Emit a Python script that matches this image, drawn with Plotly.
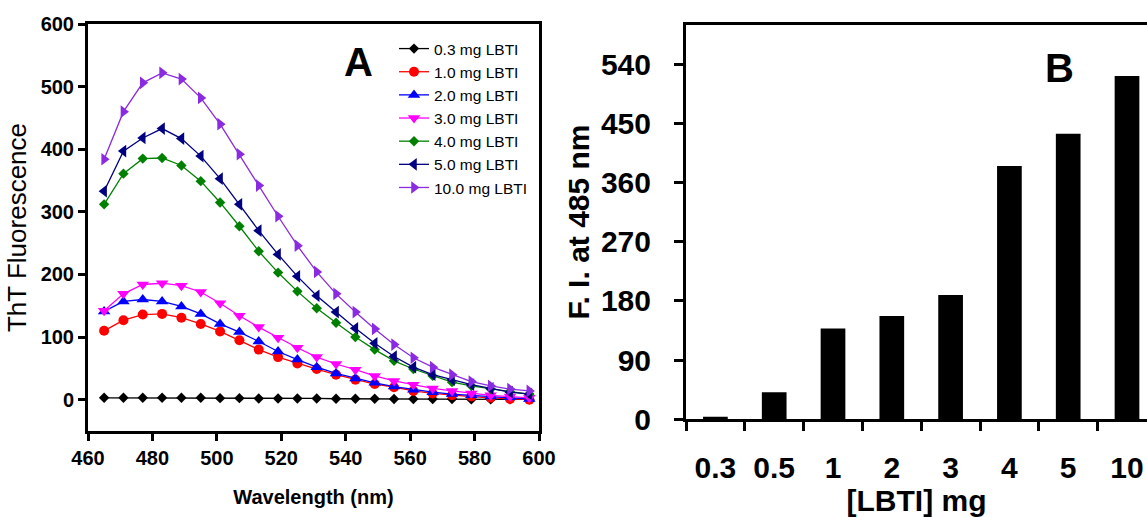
import plotly.graph_objects as go

# Panel A: ThT emission spectra for increasing LBTI amounts
wavelength = [465, 471, 477, 483, 489, 495, 501, 507, 513, 519, 525, 531,
              537, 543, 549, 555, 561, 567, 573, 579, 585, 591, 597]

lbti_03 = [3, 3, 3, 3, 3, 3, 2.5, 2.5, 2, 2, 2, 2, 1.5, 1.5, 1.5, 1, 1, 1, 1, 0.5, 0.5, 0.5, 0.5]
lbti_10 = [110, 127, 136, 137, 131, 121, 109, 95, 80, 68, 58, 49, 40, 32, 25, 20, 14, 10, 7, 5, 3, 1, 0]
lbti_20 = [141, 157, 160, 157, 149, 137, 121, 108, 93, 77, 64, 52, 42, 34, 27, 21, 16, 12, 9, 7, 5, 4, 1]
lbti_30 = [142, 169, 184, 186, 182, 172, 154, 134, 116, 99, 83, 68, 57, 48, 38, 30, 24, 18, 14, 10, 7, 5, 3]
lbti_40 = [312, 361, 385, 386, 374, 349, 315, 277, 237, 203, 173, 146, 123, 100, 80, 62, 49, 38, 28, 22, 17, 13, 9]
lbti_50 = [333, 397, 418, 433, 417, 389, 353, 312, 270, 232, 197, 166, 140, 114, 90, 69, 52, 40, 32, 24, 18, 12, 9]
lbti_100 = [384, 460, 506, 522, 512, 482, 440, 392, 342, 293, 246, 204, 169, 140, 113, 88, 67, 52, 40, 29, 22, 17, 14]

series_names = ["0.3 mg LBTI", "1.0 mg LBTI", "2.0 mg LBTI", "3.0 mg LBTI",
                "4.0 mg LBTI", "5.0 mg LBTI", "10.0 mg LBTI"]
series_values = [lbti_03, lbti_10, lbti_20, lbti_30, lbti_40, lbti_50, lbti_100]
series_colors = ["#000000", "#ff0000", "#0000ff", "#ff00ff", "#008000", "#000080", "#8a2be2"]
series_symbols = ["diamond", "circle", "triangle-up", "triangle-down", "diamond",
                  "triangle-left", "triangle-right"]
series_sizes = [8, 10, 11, 11, 8, 11, 11]

# Panel B: fluorescence intensity at 485 nm
lbti_amounts = ["0.3", "0.5", "1", "2", "3", "4", "5", "10"]
fi_485 = [4, 41, 138, 157, 189, 385, 434, 522]

FONT = "Liberation Sans, Arial, sans-serif"
W, H = 1147, 517

fig = go.Figure()

for name, vals, col, sym, sz in zip(series_names, series_values, series_colors,
                                    series_symbols, series_sizes):
    fig.add_trace(go.Scatter(
        x=wavelength, y=vals, name=name, mode="lines+markers",
        line=dict(color=col, width=1.3),
        marker=dict(symbol=sym, size=sz, color=col, line=dict(width=0)),
        xaxis="x", yaxis="y",
    ))

fig.add_trace(go.Bar(
    x=lbti_amounts, y=fi_485, width=0.42, marker=dict(color="#000000", line=dict(width=0)),
    showlegend=False, xaxis="x2", yaxis="y2",
))


def px_x(p):
    return p / W


def px_y(p):
    return 1 - p / H


# pixel edges of the two plotting areas
A_LEFT, A_RIGHT, A_TOP, A_BOTTOM = 88, 539, 24, 431
B_LEFT, B_TOP, B_BOTTOM = 686, 24.7, 419.3

tick_font_a = dict(family=FONT, size=20, color="black", weight="bold")
tick_font_b = dict(family=FONT, size=30, color="black", weight="bold")
common = dict(showgrid=False, zeroline=False, automargin=False,
              showline=True, linecolor="black", linewidth=3,
              ticks="outside", tickcolor="black")

fig.update_layout(
    width=W, height=H, autosize=False,
    margin=dict(l=0, r=0, t=0, b=0, pad=0, autoexpand=False),
    paper_bgcolor="white", plot_bgcolor="white",
    xaxis=dict(
        common, domain=[px_x(A_LEFT), px_x(A_RIGHT)], range=[460, 600], mirror=True,
        tickvals=[460, 480, 500, 520, 540, 560, 580, 600],
        ticklen=7, tickwidth=2.5, tickfont=tick_font_a,
        title=dict(text="Wavelength (nm)", standoff=22,
                   font=dict(family=FONT, size=20, color="black", weight="bold")),
        anchor="y",
    ),
    yaxis=dict(
        common, domain=[px_y(A_BOTTOM), px_y(A_TOP)], range=[-50, 600], mirror=True,
        tickvals=[0, 100, 200, 300, 400, 500, 600],
        ticklen=7, tickwidth=2.5, tickfont=tick_font_a,
        title=dict(text="ThT Fluorescence", standoff=7,
                   font=dict(family=FONT, size=26, color="black")),
        anchor="x",
    ),
    xaxis2=dict(
        common, domain=[px_x(B_LEFT), 1.0], range=[-0.5, 7.34], type="category",
        mirror=True, tickson="boundaries", ticklen=9, tickwidth=3,
        tickfont=tick_font_b, ticklabelstandoff=20,
        title=dict(text="[LBTI] mg", standoff=8,
                   font=dict(family=FONT, size=30, color="black", weight="bold")),
        anchor="y2",
    ),
    yaxis2=dict(
        common, domain=[px_y(B_BOTTOM), px_y(B_TOP)], range=[0, 600],
        tickvals=[0, 90, 180, 270, 360, 450, 540],
        ticklen=9, tickwidth=3,
        tickfont=tick_font_b, ticklabelstandoff=17,
        title=dict(text="F. I. at 485 nm", standoff=3,
                   font=dict(family=FONT, size=30, color="black", weight="bold")),
        anchor="x2",
    ),
    legend=dict(
        x=px_x(394), y=px_y(32), xanchor="left", yanchor="top",
        bgcolor="rgba(0,0,0,0)", borderwidth=0,
        font=dict(family=FONT, size=15.5, color="black"),
        itemsizing="trace",
    ),
    annotations=[
        dict(text="A", x=px_x(358), y=px_y(62), xref="paper", yref="paper",
             xanchor="center", yanchor="middle", showarrow=False,
             font=dict(family=FONT, size=40, color="black", weight="bold")),
        dict(text="B", x=px_x(1059), y=px_y(68), xref="paper", yref="paper",
             xanchor="center", yanchor="middle", showarrow=False,
             font=dict(family=FONT, size=40, color="black", weight="bold")),
    ],
)

fig.write_html("out.html")
